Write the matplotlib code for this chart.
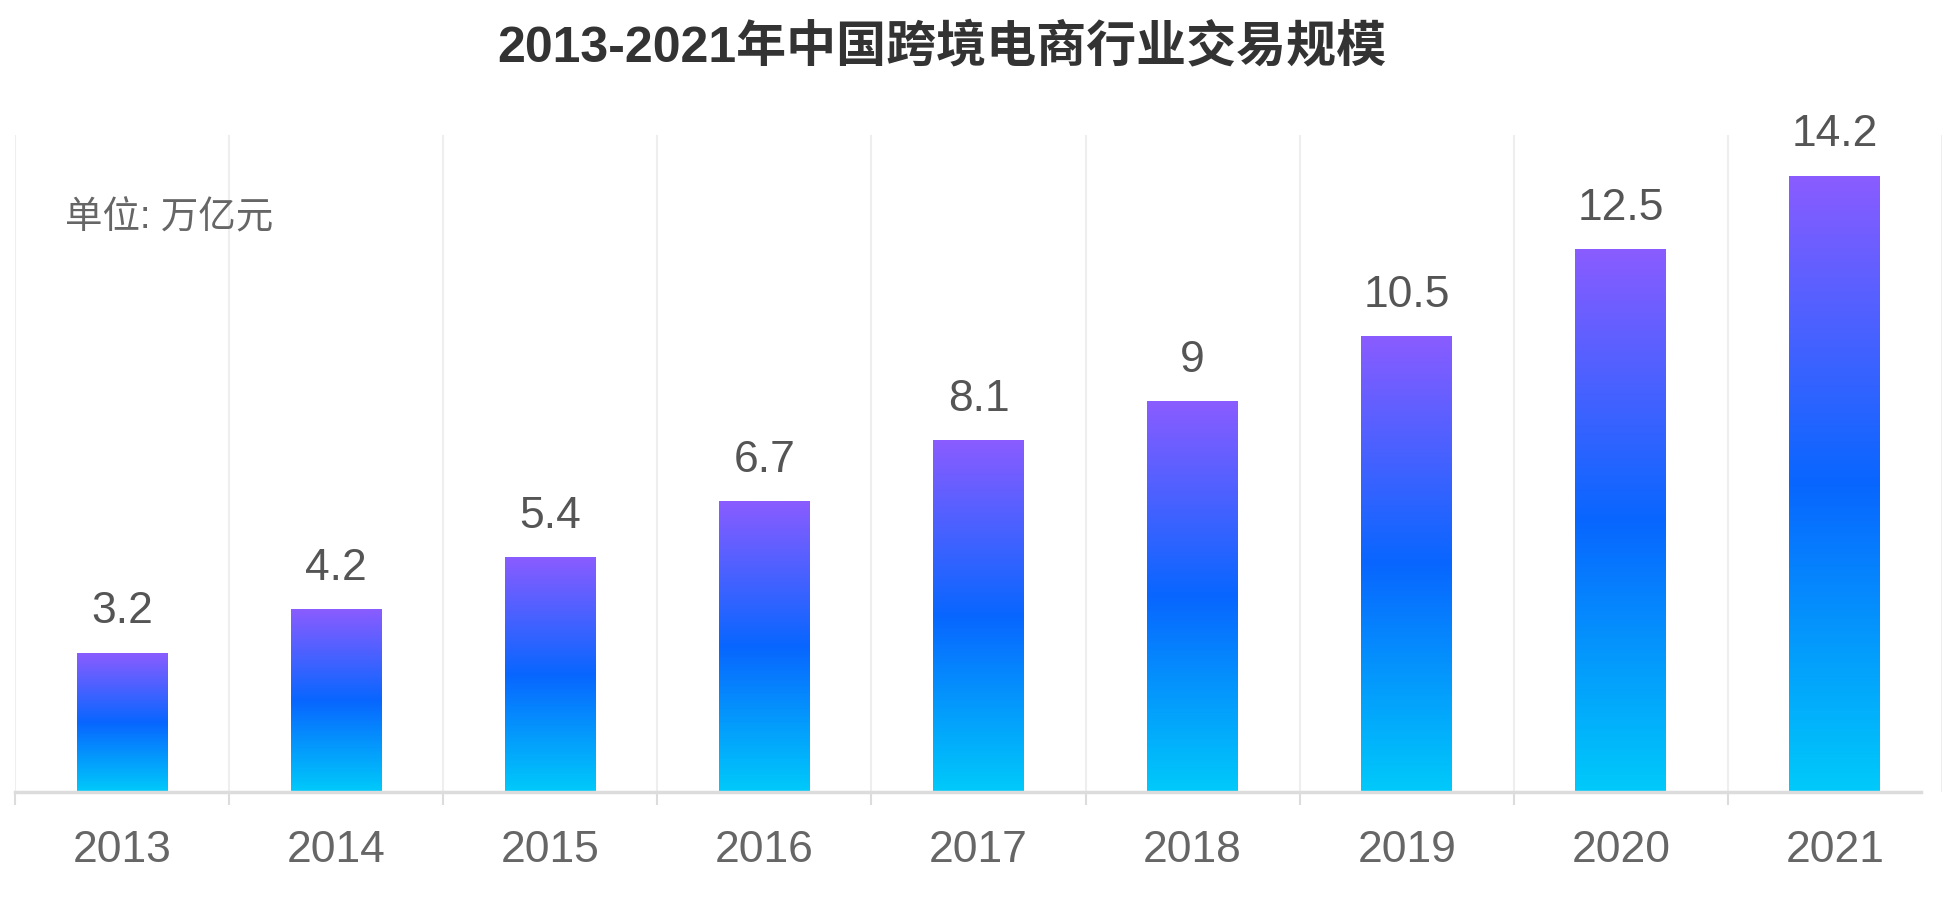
import matplotlib
matplotlib.use('Agg')
import matplotlib.pyplot as plt
import numpy as np
from matplotlib.colors import LinearSegmentedColormap

plt.rcParams['font.family'] = ['Liberation Sans', 'Noto Sans CJK SC', 'DejaVu Sans']

years = ['2013', '2014', '2015', '2016', '2017', '2018', '2019', '2020', '2021']
values = [3.2, 4.2, 5.4, 6.7, 8.1, 9, 10.5, 12.5, 14.2]
value_labels = ['3.2', '4.2', '5.4', '6.7', '8.1', '9', '10.5', '12.5', '14.2']
title = '2013-2021年中国跨境电商行业交易规模'
unit = '单位: 万亿元'

# gradient: cyan at bottom, blue in the middle, purple on top
cmap = LinearSegmentedColormap.from_list('bars', ['#00cafa', '#0866ff', '#8a5cff'])
grad = np.linspace(0, 1, 256).reshape(-1, 1)

fig = plt.figure(figsize=(19.52, 9.15), dpi=100)
ax = fig.add_axes([15 / 1952, 1 - 792 / 915, 1927 / 1952, (792 - 135) / 915])

x = np.arange(len(years))
bars = ax.bar(x, values, width=0.425, color='none', edgecolor='none')

xlim = (-0.5, len(years) - 0.5)
ylim = (0, 15.15)

for b, lab in zip(bars, value_labels):
    x0, w, h = b.get_x(), b.get_width(), b.get_height()
    ax.imshow(grad, cmap=cmap, origin='lower', aspect='auto',
              extent=[x0, x0 + w, 0, h], zorder=2)
    ax.annotate(lab, (x0 + w / 2, h), xytext=(0, 15), textcoords='offset points',
                ha='center', va='bottom', fontsize=32, color='#555555',
                annotation_clip=False)

# vertical separators between categories
for bnd in np.arange(-0.5, len(years), 1.0):
    ax.axvline(bnd, color='#eeeeee', lw=1.5, zorder=0)

ax.set_xlim(xlim)
ax.set_ylim(ylim)

for s in ['top', 'right', 'left']:
    ax.spines[s].set_visible(False)
ax.spines['bottom'].set_color('#dcdcdc')
ax.spines['bottom'].set_linewidth(2.5)
ax.spines['bottom'].set_zorder(3)
ax.spines['bottom'].set_bounds(-0.5, len(years) - 0.6)

ax.set_yticks([])
ax.set_xticks(x)
ax.set_xticklabels(years, fontsize=32, color='#666666')
ax.tick_params(axis='x', which='major', length=0, pad=27)
ax.set_xticks(np.arange(-0.5, len(years) - 0.6, 1.0), minor=True)
ax.tick_params(axis='x', which='minor', length=9, width=1.5, color='#dcdcdc')

fig.text(942 / 1952, 1 - 47 / 915, title, ha='center', va='center',
         fontsize=36, fontweight='bold', color='#333333')
fig.text(65 / 1952, 1 - 218 / 915, unit, ha='left', va='center',
         fontsize=27, color='#666666')

fig.savefig('out.png', dpi=100)
